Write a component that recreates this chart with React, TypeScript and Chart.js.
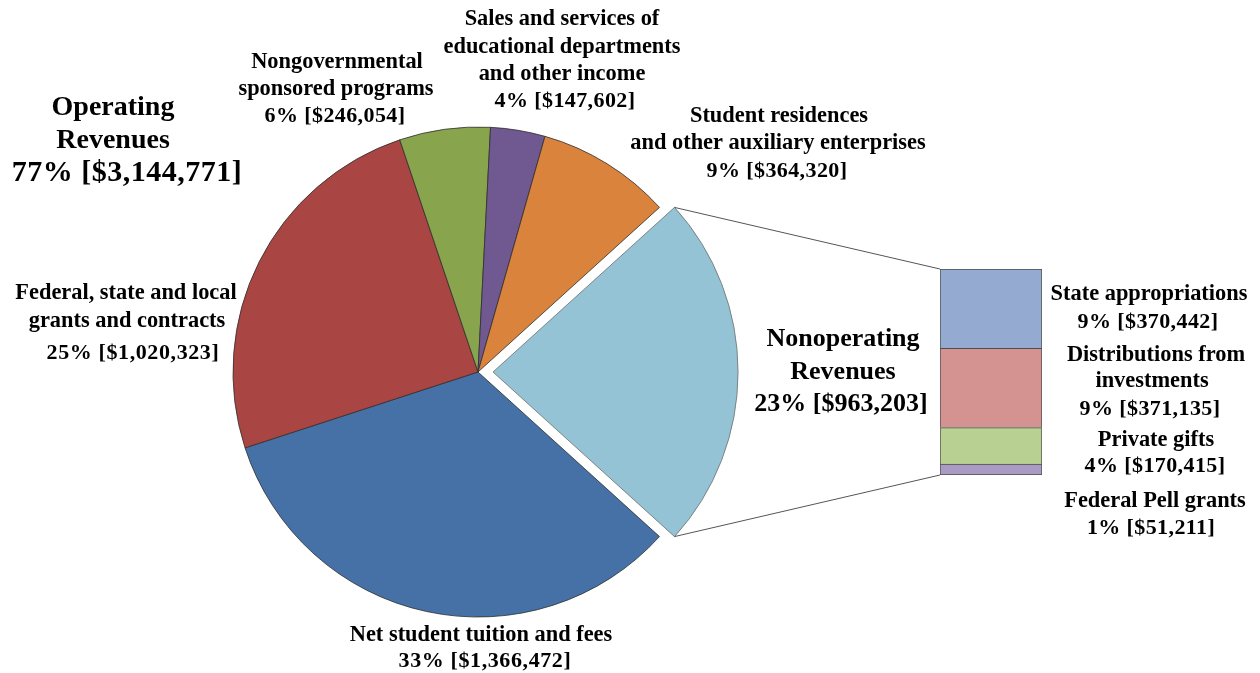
import React, { useEffect, useRef } from "react";
import { Chart, registerables } from "chart.js";

Chart.register(...registerables);

// ---- data ----
const pieCategories = [
  "Net student tuition and fees",
  "Federal, state and local grants and contracts",
  "Nongovernmental sponsored programs",
  "Sales and services of educational departments and other income",
  "Student residences and other auxiliary enterprises",
  "Nonoperating Revenues",
];
const pieValues = [1366472, 1020323, 246054, 147602, 364320, 963203];
const pieColors = ["#4571A6", "#A94543", "#88A54D", "#705891", "#DA833C", "#93C3D5"];

// stacked bar, bottom to top
const barCategories = ["Federal Pell grants", "Private gifts", "Distributions from investments", "State appropriations"];
const barValues = [51211, 170415, 371135, 370442];
const barColors = ["#A99BC3", "#B9D093", "#D49290", "#94AAD0"];

const grandTotal = pieValues.reduce((a, b) => a + b, 0);
const nonopTotal = pieValues[5];
const operatingTotal = grandTotal - nonopTotal;

const fmt = (v: number) => `${Math.round((v / grandTotal) * 100)}% [$${v.toLocaleString("en-US")}]`;

// ---- layout (positions only) ----
const BAR_LEFT = 930;
const BAR_TOP = 259;
const BAR_W = 122;
const BAR_H = 226;

// text, center x, middle y, font size, letter spacing
type Line = [string, number, number, number, number];
const labelLines: Line[] = [
  ["Operating", 113, 108, 28, 0],
  ["Revenues", 113, 141, 28, 0],
  [fmt(operatingTotal), 127, 173, 30, 0.5],
  ["Nonoperating", 843, 339, 26, 0],
  ["Revenues", 843, 372, 26, 0],
  [fmt(nonopTotal), 841, 404, 26, 0],
  ["Nongovernmental", 337, 62, 22.4, 0],
  ["sponsored programs", 336, 89, 22.4, 0],
  [fmt(pieValues[2]), 335, 116, 22, 0.4],
  ["Sales and services of", 562, 19, 22.4, 0],
  ["educational departments", 562, 47, 22.4, 0],
  ["and other income", 562, 74, 22.4, 0],
  [fmt(pieValues[3]), 565, 101, 22, 0.4],
  ["Student residences", 779, 116, 22.4, 0],
  ["and other auxiliary enterprises", 778, 143, 22.4, 0],
  [fmt(pieValues[4]), 777, 171, 22, 0.4],
  ["Federal, state and local", 126, 293, 22.4, 0],
  ["grants and contracts", 127, 321, 22.4, 0],
  [fmt(pieValues[1]), 133, 353, 22, 0.6],
  ["Net student tuition and fees", 481, 635, 22.4, 0],
  [fmt(pieValues[0]), 485, 661, 22, 0.6],
  ["State appropriations", 1149, 294, 22.4, 0],
  [fmt(barValues[3]), 1148, 322, 22, 0.4],
  ["Distributions from", 1156, 355, 22.4, 0],
  ["investments", 1152, 381, 22.4, 0],
  [fmt(barValues[2]), 1150, 409, 22, 0.4],
  ["Private gifts", 1156, 440, 22.4, 0],
  [fmt(barValues[1]), 1155, 466, 22, 0.4],
  ["Federal Pell grants", 1155, 501, 22.4, 0],
  [fmt(barValues[0]), 1151, 528, 22, 0.4],
];

export default function App() {
  const pieRef = useRef<HTMLCanvasElement>(null);
  const barRef = useRef<HTMLCanvasElement>(null);

  useEffect(() => {
    document.body.style.margin = "0";
    const barChart = new Chart(barRef.current as HTMLCanvasElement, {
      type: "bar",
      data: {
        labels: ["Nonoperating Revenues"],
        datasets: barCategories.map((label, i) => ({
          label,
          data: [barValues[i]],
          backgroundColor: barColors[i],
          borderColor: "#4d4d4d",
          borderWidth: { left: 1, right: 1, top: 1, bottom: i === 0 ? 1 : 0 },
          borderSkipped: false,
          barPercentage: 1,
          categoryPercentage: 1,
        })),
      },
      options: {
        responsive: false,
        animation: false,
        layout: { padding: 10 },
        plugins: { legend: { display: false }, tooltip: { enabled: false } },
        scales: {
          x: { stacked: true, display: false },
          y: { stacked: true, display: false, min: 0, max: nonopTotal },
        },
      },
    } as any);

    const overlay = {
      id: "overlay",
      afterDatasetsDraw(chart: any) {
        const ctx = chart.ctx;
        const arc = chart.getDatasetMeta(0).data[5];
        const { x, y, startAngle, endAngle, outerRadius } = arc.getProps(
          ["x", "y", "startAngle", "endAngle", "outerRadius"],
          true
        );
        const off = (arc.options.offset || 0) / 4;
        const mid = (startAngle + endAngle) / 2;
        const cx = x + Math.cos(mid) * off;
        const cy = y + Math.sin(mid) * off;
        const p1x = cx + Math.cos(startAngle) * outerRadius;
        const p1y = cy + Math.sin(startAngle) * outerRadius;
        const p2x = cx + Math.cos(endAngle) * outerRadius;
        const p2y = cy + Math.sin(endAngle) * outerRadius;
        const topEl: any = barChart.getDatasetMeta(barValues.length - 1).data[0];
        const botEl: any = barChart.getDatasetMeta(0).data[0];
        const bl = BAR_LEFT + topEl.x - topEl.width / 2;
        const bt = BAR_TOP + topEl.y;
        const bb = BAR_TOP + botEl.base;
        ctx.save();
        ctx.strokeStyle = "#555555";
        ctx.lineWidth = 1;
        ctx.beginPath();
        ctx.moveTo(p1x, p1y);
        ctx.lineTo(bl, bt);
        ctx.moveTo(p2x, p2y);
        ctx.lineTo(bl, bb);
        ctx.stroke();
        ctx.restore();
      },
      afterDraw(chart: any) {
        const ctx = chart.ctx;
        ctx.save();
        ctx.fillStyle = "#000";
        ctx.textAlign = "center";
        ctx.textBaseline = "middle";
        for (const [t, lx, ly, size, ls] of labelLines) {
          ctx.font = `bold ${size}px "Liberation Serif"`;
          (ctx as any).letterSpacing = `${ls}px`;
          ctx.fillText(t, lx, ly);
        }
        ctx.restore();
      },
    };

    const pieChart = new Chart(pieRef.current as HTMLCanvasElement, {
      type: "pie",
      data: {
        labels: pieCategories,
        datasets: [
          {
            data: pieValues,
            backgroundColor: pieColors,
            borderColor: ["#2e2e2e", "#2e2e2e", "#2e2e2e", "#2e2e2e", "#2e2e2e", "#6f6f6f"],
            borderWidth: 0.8,
            offset: [0, 0, 0, 0, 0, 60],
            hoverOffset: 0,
          },
        ],
      },
      options: {
        responsive: false,
        animation: false,
        rotation: 90 + ((nonopTotal / grandTotal) * 360) / 2,
        radius: 245,
        layout: { padding: { left: 228, right: 532, top: 122, bottom: 51 } },
        plugins: { legend: { display: false }, tooltip: { enabled: false } },
      },
      plugins: [overlay],
    } as any);

    return () => {
      pieChart.destroy();
      barChart.destroy();
    };
  }, []);

  return (
    <div style={{ position: "relative", width: 1260, height: 673, background: "#fff" }}>
      <canvas
        ref={pieRef}
        width={1260}
        height={673}
        style={{ position: "absolute", left: 0, top: 0, width: 1260, height: 673 }}
      />
      <canvas
        ref={barRef}
        width={BAR_W}
        height={BAR_H}
        style={{ position: "absolute", left: BAR_LEFT, top: BAR_TOP, width: BAR_W, height: BAR_H }}
      />
    </div>
  );
}
